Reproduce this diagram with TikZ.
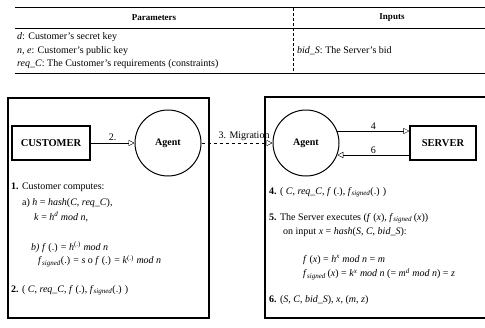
\documentclass[tikz,border=0pt]{standalone}
\usepackage{fontspec}
\setmainfont{Liberation Serif}
\usetikzlibrary{arrows.meta,positioning}

\newcommand{\fsig}{\textit{f}\textsubscript{\textit{signed}}}

\begin{document}
\begin{tikzpicture}[x=1pt, y=-1pt, font=\fontsize{10}{12}\selectfont,
    entitybox/.style={draw=lineColour, line width=1.2pt, minimum width=78pt, minimum height=34pt, font=\fontsize{10.5}{12}\selectfont\bfseries},
    agentnode/.style={draw=lineColour, circle, line width=1pt, minimum size=66pt, inner sep=0pt, font=\fontsize{10}{12}\selectfont\bfseries},
    flowarrow/.style={draw=lineColour, -{Triangle[open, length=6pt, width=6pt]}},
    txt/.style={anchor=west, inner sep=0pt}]
    % Define colours
    \definecolor{lineColour}{HTML}{000000}

    % Fix the page size
    \useasboundingbox (0,0) rectangle (485,327);

    % Draw the table of parameters and inputs
    \draw[lineColour, line width=1pt] (15,7) -- (485,7);
    \draw[lineColour, line width=0.8pt] (15,28) -- (485,28);
    \draw[lineColour, line width=0.8pt] (15,73) -- (485,73);
    \draw[lineColour, densely dashed, thin] (293,8) -- (293,73);
    \node[font=\fontsize{9}{10}\selectfont\bfseries] (parHead) at (154,18) {Parameters};
    \node[font=\fontsize{9}{10}\selectfont\bfseries] (inHead) at (392,18) {Inputs};
    \node[txt] (parD) at (17,37) {\textit{d}: Customer's secret key};
    \node[txt] (parN) at (17,51) {\textit{n, e}: Customer's public key};
    \node[txt] (parReq) at (17,64) {\textit{req\_C}: The Customer's requirements (constraints)};
    \node[txt] (inBid) at (297,51) {\textit{bid\_S}: The Server's bid};

    % Draw the two hosts
    \draw[lineColour, line width=1.2pt] (8,98) rectangle (209,318);
    \draw[lineColour, line width=1.2pt] (485,97) -- (265,97) -- (265,318) -- (485,318);

    % Customer side
    \node[entitybox] (customer) at (51,143) {CUSTOMER};
    \node[agentnode] (agentC) at (168,143) {Agent};
    \draw[flowarrow] (customer) -- node[above, inner sep=2pt] {2.} (agentC);

    % Migration of the agent
    \node[agentnode] (agentS) at (306,143) {Agent};
    \draw[flowarrow, dashed] (agentC) -- node[above, pos=0.6, inner sep=2pt] {3. Migration} (agentS);

    % Server side
    \node[entitybox, minimum width=66pt] (server) at (443,143) {SERVER};
    \draw[flowarrow] (agentS.21) -- node[above, inner sep=1pt] {4} (agentS.21 -| server.west);
    \draw[flowarrow] (server.west |- agentS.-21) -- node[above, inner sep=1pt] {6} (agentS.-21);

    % Steps on the customer host
    \node[txt] (stepOne) at (11,187) {\textbf{1.} Customer computes:};
    \node[txt] (stepOneA) at (22,203) {a) \textit{h} = \textit{hash}(\textit{C}, \textit{req\_C}),};
    \node[txt] (stepOneK) at (34,217) {\textit{k} = \textit{h}\textsuperscript{\textit{d}} \textit{mod n},};
    \node[txt] (stepOneB) at (31,247) {\textit{b) f} (.) = \textit{h}\textsuperscript{(.)} \textit{mod n}};
    \node[txt] (stepOneF) at (38,261) {\fsig(.) = \textit{s} o \textit{f} (.) = \textit{k}\textsuperscript{(.)} \textit{mod n}};
    \node[txt] (stepTwo) at (11,290) {\textbf{2.} ( \textit{C}, \textit{req\_C}, \textit{f} (.), \fsig(.) )};

    % Steps on the server host
    \node[txt] (stepFour) at (269,192) {\textbf{4.} ( \textit{C}, \textit{req\_C}, \textit{f} (.), \fsig(.) )};
    \node[txt] (stepFive) at (269,218) {\textbf{5.} The Server executes (\textit{f} (\textit{x}), \fsig\,(\textit{x}))};
    \node[txt] (stepFiveB) at (283,232) {on input \textit{x} = \textit{hash}(\textit{S}, \textit{C}, \textit{bid\_S}):};
    \node[txt] (stepFiveF) at (303,260) {\textit{f} (\textit{x}) = \textit{h}\textsuperscript{\textit{x}} \textit{mod n} = \textit{m}};
    \node[txt] (stepFiveG) at (303,274) {\fsig\,(\textit{x}) = \textit{k}\textsuperscript{\textit{x}} \textit{mod n} (= \textit{m}\textsuperscript{\textit{d}} \textit{mod n}) = \textit{z}};
    \node[txt] (stepSix) at (269,300) {\textbf{6.} (\textit{S}, \textit{C}, \textit{bid\_S}), \textit{x}, (\textit{m}, \textit{z})};

\end{tikzpicture}
\end{document}
